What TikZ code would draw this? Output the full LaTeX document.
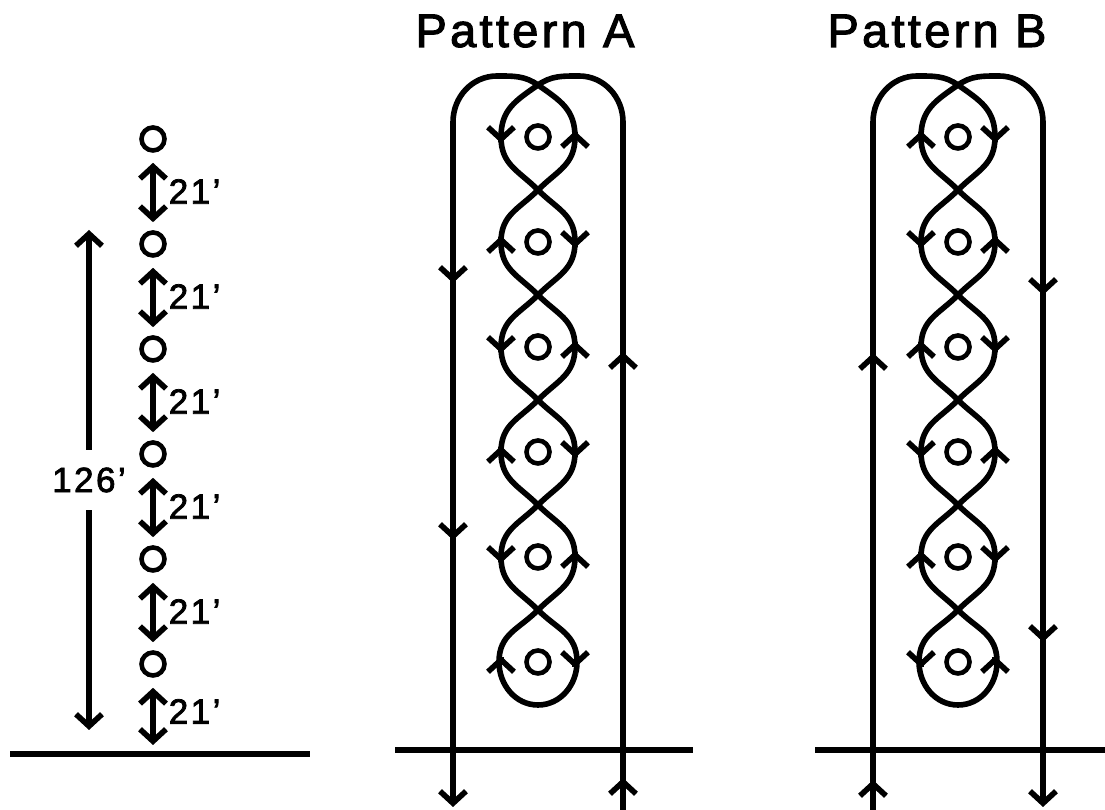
\documentclass[tikz,border=0pt]{standalone}
\usepackage{fontspec}
\setmainfont{Liberation Sans}
\newfontfamily\labfont[FakeBold=2.2,LetterSpace=7]{Liberation Sans}
\usetikzlibrary{arrows.meta,positioning}

\begin{document}
\begin{tikzpicture}[x=1pt,y=1pt,>={Straight Barb[length=12pt,width=26pt]},
  line/.style={line width=5.6pt},
  cone/.style={draw,circle,line width=4.6pt,minimum size=23pt,inner sep=0pt},
  lab/.style={font=\labfont\fontsize{35}{40}\selectfont,inner sep=0pt},
  ttl/.style={font=\labfont\fontsize{47}{50}\selectfont,inner sep=0pt,anchor=base},
  lobe/.style={looseness=1.1}]
  \useasboundingbox (0,0) rectangle (1105,810);
  % spacing column (left)
  \foreach \k in {1,...,6}
    \node[cone] (l\k) at (153,{776-105*\k}) {};
  \coordinate (lg) at (153,65);
  \draw[line] (10,56) -- (310,56);
  \foreach \k [evaluate=\k as \n using int(\k+1)] in {1,...,5}
    \draw[line,<->,shorten <=10pt,shorten >=8pt] (l\k) -- (l\n)
      node[lab,midway,right=13pt] {21’};
  \draw[line,<->,shorten <=10pt] (l6) -- (lg) node[lab,midway,right=13pt] {21’};
  \coordinate (tp) at (89,580);
  \coordinate (bt) at (89,80);
  \draw[line,<->] (tp) -- node[lab,fill=white,inner xsep=1pt,inner ysep=18pt] (len) {126’} (bt);
  % titles
  \node[ttl] (ttlA) at (525,763) {Pattern A};
  \node[ttl] (ttlB) at (937,763) {Pattern B};
  % ground lines
  \draw[line] (395,60) -- (693,60);
  \draw[line] (815,60) -- (1105,60);
  % the two weaves (B is A mirrored)
  \foreach \cx/\s/\nm in {538/1/a,958/-1/b}{
    \begin{scope}[shift={(\cx,0)},xscale=\s]
      \foreach \k in {1,...,6}
        \node[cone] (\nm\k) at (0,{778-105*\k}) {};
      \draw[line,->,lobe] (85,0) -- (85,688) to[out=90,in=0,looseness=1] (41,734) to[out=180,in=35,looseness=1] (0,725)
        to[out=215,in=90] (-37,673) to[out=-90,in=135] (0,620)
        to[out=-45,in=90] (37,568) to[out=-90,in=45] (0,515)
        to[out=-135,in=90] (-37,463) to[out=-90,in=135] (0,410)
        to[out=-45,in=90] (37,358) to[out=-90,in=45] (0,305)
        to[out=-135,in=90] (-37,253) to[out=-90,in=135] (0,200)
        to[out=-45,in=90] (39,148) to[out=-90,in=0,looseness=1] (0,105)
        to[out=180,in=-90,looseness=1] (-39,148) to[out=90,in=-135] (0,200)
        to[out=45,in=-90] (37,253) to[out=90,in=-45] (0,305)
        to[out=135,in=-90] (-37,358) to[out=90,in=-135] (0,410)
        to[out=45,in=-90] (37,463) to[out=90,in=-45] (0,515)
        to[out=135,in=-90] (-37,568) to[out=90,in=-135] (0,620)
        to[out=45,in=-90] (37,673) to[out=90,in=-35] (0,725)
        to[out=145,in=0,looseness=1] (-41,734) to[out=180,in=90,looseness=1] (-85,688) -- (-85,3);
      % direction marks on the loops
      \foreach \k in {1,...,6}{
        \pgfmathsetmacro\d{(-1)^\k}
        \draw[line,->] (-37,{778-105*\k+6*\d-\d}) -- (-37,{778-105*\k+6*\d});
        \draw[line,->] (37,{778-105*\k-6*\d+\d}) -- (37,{778-105*\k-6*\d});
      }
    \end{scope}
  }
  % direction marks on the straight runs
  \foreach \x/\y/\d in {453/527/-1,453/270/-1,623/458/1,623/32/1,
                        873/457/1,873/30/1,1043/515/-1,1043/168/-1}
    \draw[line,->] (\x,{\y-\d}) -- (\x,\y);
\end{tikzpicture}
\end{document}
